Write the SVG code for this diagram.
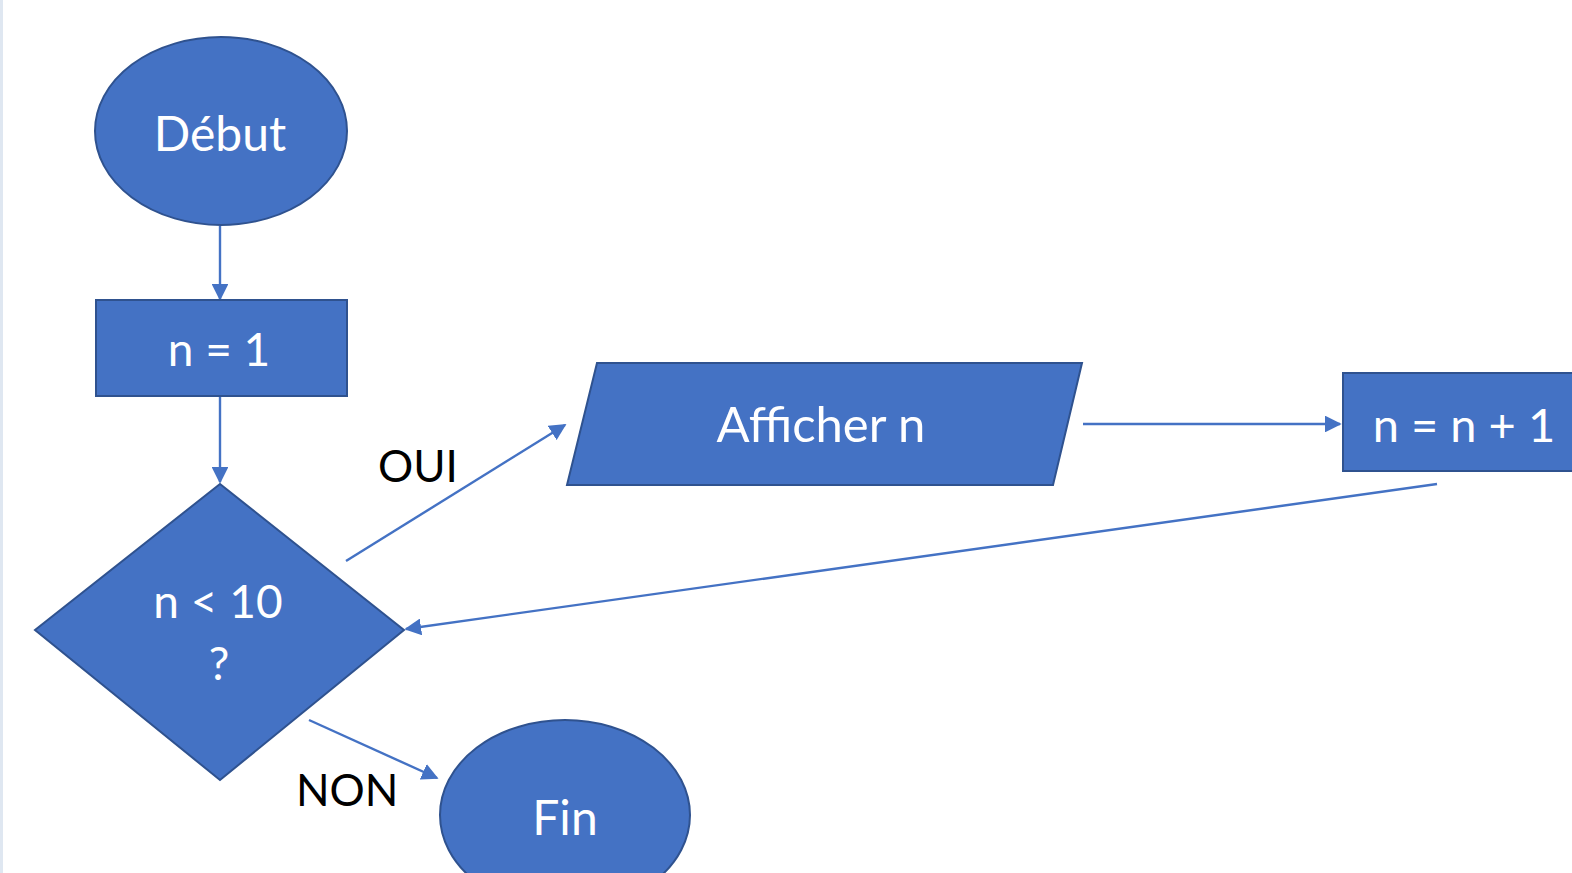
<svg xmlns="http://www.w3.org/2000/svg" width="1572" height="873" viewBox="0 0 1572 873">
<defs>
<style>
.shape{fill:#4472C4;stroke:#2F528F;stroke-width:2}
.lbl{font-family:Lato,"Open Sans","Liberation Sans",sans-serif;fill:#ffffff;text-anchor:middle;dominant-baseline:central}
.edge{font-family:Lato,"Open Sans","Liberation Sans",sans-serif;fill:#000000;font-size:44px}
.conn{stroke:#4472C4;stroke-width:2.4;fill:none;marker-end:url(#ah)}
</style>
<marker id="ah" viewBox="0 0 10 10" refX="9" refY="5" markerWidth="7" markerHeight="7" markerUnits="strokeWidth" orient="auto">
<path d="M0,0 L10,5 L0,10 z" fill="#4472C4"/>
</marker>
</defs>
<rect x="0" y="0" width="1572" height="873" fill="#ffffff"/>
<rect x="0" y="0" width="3" height="873" fill="#dfe7f1"/>
<g id="connectors">
<line class="conn" x1="220" y1="226" x2="220" y2="299"/>
<line class="conn" x1="220" y1="397" x2="220" y2="482"/>
<line class="conn" x1="346" y1="561" x2="565" y2="425"/>
<line class="conn" x1="1083" y1="424" x2="1340" y2="424"/>
<line class="conn" x1="1437" y1="484" x2="406" y2="629"/>
<line class="conn" x1="309" y1="720" x2="437" y2="778"/>
<text class="edge" x="378" y="482">OUI</text>
<text class="edge" x="296" y="806">NON</text>
</g>
<g id="debut">
<ellipse class="shape" cx="221" cy="131" rx="126" ry="94"/>
<text class="lbl" x="220" y="132" font-size="48">Début</text>
</g>
<g id="init">
<rect class="shape" x="96" y="300" width="251" height="96"/>
<text class="lbl" x="219" y="348" font-size="46">n = 1</text>
</g>
<g id="test">
<polygon class="shape" points="220,484 404,630 220,780 35,630"/>
<text class="lbl" x="218" y="600" font-size="46">n &lt; 10</text>
<text class="lbl" x="219" y="662" font-size="46">?</text>
</g>
<g id="afficher">
<polygon class="shape" points="597,363 1082,363 1053,485 567,485"/>
<text class="lbl" x="821" y="423" font-size="49">Afficher n</text>
</g>
<g id="incr">
<rect class="shape" x="1343" y="373" width="240" height="98"/>
<text class="lbl" x="1464" y="424" font-size="47">n = n + 1</text>
</g>
<g id="fin">
<ellipse class="shape" cx="565" cy="815" rx="125" ry="95"/>
<text class="lbl" x="565" y="816" font-size="48">Fin</text>
</g>
</svg>
